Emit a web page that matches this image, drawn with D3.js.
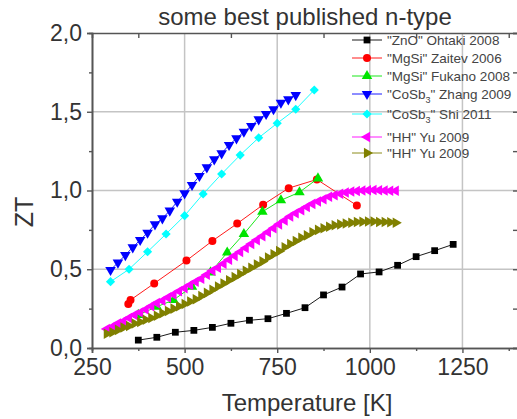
<!DOCTYPE html>
<meta charset="utf-8">
<script src="https://d3js.org/d3.v7.min.js"></script>
<style>
  body { margin: 0; background: #fff; }
  text { font-family: "Liberation Sans", Arial, sans-serif; }
</style>
<body>
<div id="chart"></div>
<script>
// ---- data ----
var znoT  = [375, 425, 475, 525, 575, 625, 675, 725, 775, 825, 875, 925, 975, 1025, 1075, 1125, 1175, 1225];
var znoZT = [0.05, 0.068, 0.10, 0.112, 0.131, 0.157, 0.176, 0.186, 0.22, 0.256, 0.337, 0.387, 0.47, 0.483, 0.525, 0.58, 0.618, 0.658];

var zaitevT  = [348, 354, 418, 505, 575, 642, 712, 781, 857, 965];
var zaitevZT = [0.28, 0.305, 0.41, 0.555, 0.68, 0.79, 0.91, 1.015, 1.07, 0.905];

var fukanoT  = [375, 425, 470, 520, 570, 615, 660, 710, 760, 810, 860];
var fukanoZT = [0.21, 0.262, 0.305, 0.389, 0.48, 0.606, 0.724, 0.865, 0.938, 0.989, 1.077];

var zhangT  = [300, 320, 340, 360, 380, 400, 420, 440, 460, 480, 500, 520, 540,
               560, 580, 600, 620, 640, 660, 680, 700, 720, 740, 760, 780, 800];
var zhangZT = [0.495, 0.542, 0.59, 0.639, 0.686, 0.732, 0.785, 0.823, 0.872, 0.929, 0.982, 1.035, 1.092,
               1.147, 1.198, 1.236, 1.289, 1.331, 1.373, 1.41, 1.452, 1.486, 1.516, 1.557, 1.579, 1.606];

var shiT  = [300, 350, 400, 450, 500, 550, 600, 650, 700, 750, 800, 850];
var shiZT = [0.421, 0.50, 0.611, 0.724, 0.84, 0.978, 1.105, 1.225, 1.335, 1.427, 1.516, 1.638];

var hhT = [290, 305, 320, 335, 350, 365, 380, 395, 410, 425, 440, 455, 470, 485, 500, 515, 530, 545,
           560, 575, 590, 605, 620, 635, 650, 665, 680, 695, 710, 725, 740, 755, 770, 785, 800, 815,
           830, 845, 860, 875, 890, 905, 920, 935, 950, 965, 980, 995, 1010, 1025, 1040, 1055, 1070];
var hh1ZT = [0.12, 0.135, 0.155, 0.17, 0.19, 0.21, 0.225, 0.245, 0.265, 0.285, 0.30, 0.32, 0.34, 0.36, 0.38, 0.40, 0.42, 0.44,
             0.465, 0.49, 0.51, 0.535, 0.56, 0.585, 0.61, 0.635, 0.66, 0.685, 0.71, 0.735, 0.76, 0.785, 0.81, 0.835, 0.855, 0.875,
             0.895, 0.915, 0.93, 0.945, 0.96, 0.97, 0.98, 0.988, 0.993, 0.997, 1.0, 1.002, 1.003, 1.002, 1.0, 0.999, 0.998];
var hh2ZT = [0.09, 0.10, 0.115, 0.13, 0.14, 0.155, 0.165, 0.18, 0.19, 0.205, 0.22, 0.235, 0.25, 0.265, 0.28, 0.295, 0.31, 0.33,
             0.35, 0.37, 0.39, 0.41, 0.43, 0.45, 0.47, 0.49, 0.51, 0.53, 0.55, 0.575, 0.595, 0.615, 0.64, 0.66, 0.68, 0.70,
             0.715, 0.735, 0.75, 0.76, 0.77, 0.78, 0.785, 0.79, 0.795, 0.80, 0.802, 0.803, 0.803, 0.80, 0.80, 0.798, 0.795];

var xTicks = [250, 500, 750, 1000, 1250];
var yTicks = [0, 0.5, 1.0, 1.5, 2.0];

// ---- series setup ----
var series = [
  {name: '"ZnO" Ohtaki 2008',   t: znoT,    zt: znoZT,    color: "#000000", symbol: "square"},
  {name: '"MgSi" Zaitev 2006',  t: zaitevT, zt: zaitevZT, color: "#ff0000", symbol: "circle"},
  {name: '"MgSi" Fukano 2008',  t: fukanoT, zt: fukanoZT, color: "#00e400", symbol: "up"},
  {name: ['"CoSb', '3', '" Zhang 2009'], t: zhangT, zt: zhangZT, color: "#0000ff", symbol: "down"},
  {name: ['"CoSb', '3', '" Shi 2011'],   t: shiT,   zt: shiZT,   color: "#00ffff", symbol: "diamond"},
  {name: '"HH" Yu 2009',        t: hhT,     zt: hh1ZT,    color: "#ff00ff", symbol: "left"},
  {name: '"HH" Yu 2009',        t: hhT,     zt: hh2ZT,    color: "#808000", symbol: "right"}
];
var legendRowY = [40, 58, 76, 94, 114, 137, 153];

var width = 517, height = 419;
var plotL = 92, plotR = 518, plotT = 33, plotB = 348;

var svg = d3.select("#chart").append("svg")
  .attr("width", width)
  .attr("height", height);

var x = d3.scaleLinear().domain([250, 1400]).range([plotL, plotR]);
var y = d3.scaleLinear().domain([0, 2]).range([plotB, plotT]);

// grid lines
svg.append("g").selectAll("line")
  .data(xTicks.filter(function(d) { return d > 250; }))
  .enter().append("line")
    .attr("x1", function(d) { return x(d); })
    .attr("x2", function(d) { return x(d); })
    .attr("y1", plotT).attr("y2", plotB)
    .attr("stroke", "#c4c4c4").attr("stroke-width", 1.5);
svg.append("g").selectAll("line")
  .data(yTicks.filter(function(d) { return d > 0 && d < 2; }))
  .enter().append("line")
    .attr("x1", plotL).attr("x2", plotR)
    .attr("y1", function(d) { return y(d); })
    .attr("y2", function(d) { return y(d); })
    .attr("stroke", "#c4c4c4").attr("stroke-width", 1.5);

// axes: bottom and left outward, top and right mirrored inward
var xMinor = [375, 625, 875, 1125, 1375];
var yMinor = [0.25, 0.75, 1.25, 1.75];
var axisColor = "#555";

svg.append("g").attr("transform", "translate(0," + plotB + ")")
  .call(d3.axisBottom(x).tickValues(xTicks).tickSize(5).tickPadding(6)
    .tickFormat(d3.format("d")));
svg.append("g").attr("transform", "translate(" + plotL + ",0)")
  .call(d3.axisLeft(y).tickValues(yTicks).tickSize(5).tickPadding(5)
    .tickFormat(function(d) { return d.toFixed(1).replace(".", ","); }));
svg.append("g").attr("transform", "translate(0," + plotT + ")")
  .call(d3.axisTop(x).tickValues(xMinor).tickSize(-5).tickFormat(""));
svg.append("g").attr("transform", "translate(" + plotR + ",0)")
  .call(d3.axisRight(y).tickValues(yMinor.concat(yTicks)).tickSize(-5).tickFormat(""));
svg.append("g").attr("transform", "translate(0," + plotB + ")")
  .call(d3.axisBottom(x).tickValues(xMinor).tickSize(3).tickFormat(""));
svg.append("g").attr("transform", "translate(" + plotL + ",0)")
  .call(d3.axisLeft(y).tickValues(yMinor).tickSize(3).tickFormat(""));

svg.selectAll(".domain").attr("stroke", axisColor).attr("stroke-width", 1.6);
svg.selectAll(".tick line").attr("stroke", axisColor).attr("stroke-width", 1.4);
svg.selectAll(".tick text")
  .attr("fill", "#333")
  .style("font-size", "23px")
  .style("font-family", "'Liberation Sans', Arial, sans-serif");

// title and axis labels
svg.append("text")
  .attr("x", 305).attr("y", 25)
  .attr("text-anchor", "middle")
  .attr("fill", "#333")
  .style("font-size", "24px")
  .text("some best published n-type");
svg.append("text")
  .attr("x", 307).attr("y", 411)
  .attr("text-anchor", "middle")
  .attr("fill", "#333")
  .style("font-size", "24px")
  .text("Temperature [K]");
svg.append("text")
  .attr("transform", "translate(33,212) rotate(-90)")
  .attr("text-anchor", "middle")
  .attr("fill", "#333")
  .style("font-size", "25px")
  .text("ZT");

// marker shapes
function markerPath(kind) {
  if (kind === "square") return d3.symbol().type(d3.symbolSquare).size(46)();
  if (kind === "circle") return d3.symbol().type(d3.symbolCircle).size(50)();
  if (kind === "diamond") return d3.symbol().type(d3.symbolSquare).size(42)();
  return d3.symbol().type(d3.symbolTriangle).size(48)();
}
function markerRotate(kind) {
  return {down: 180, left: -90, right: 90, diamond: 45}[kind] || 0;
}

var line = d3.line()
  .x(function(d) { return x(d[0]); })
  .y(function(d) { return y(d[1]); });

series.forEach(function(s) {
  var pts = d3.zip(s.t, s.zt);
  var g = svg.append("g");
  g.append("path")
    .datum(pts)
    .attr("d", line)
    .attr("fill", "none")
    .attr("stroke", s.color)
    .attr("stroke-width", 0.9);
  g.selectAll("path.m")
    .data(pts)
    .enter().append("path")
      .attr("class", "m")
      .attr("d", markerPath(s.symbol))
      .attr("transform", function(d) {
        return "translate(" + x(d[0]) + "," + y(d[1]) + ") rotate(" + markerRotate(s.symbol) + ")";
      })
      .attr("fill", s.color);
});

// legend
var legend = svg.append("g");
series.forEach(function(s, i) {
  var ly = legendRowY[i];
  legend.append("line")
    .attr("x1", 352).attr("x2", 382)
    .attr("y1", ly).attr("y2", ly)
    .attr("stroke", s.color).attr("stroke-width", 0.9);
  legend.append("path")
    .attr("d", markerPath(s.symbol))
    .attr("transform", "translate(367," + ly + ") rotate(" + markerRotate(s.symbol) + ")")
    .attr("fill", s.color);
  var t = legend.append("text")
    .attr("x", 387).attr("y", ly + 5)
    .attr("fill", "#444")
    .style("font-size", "13.5px");
  if (Array.isArray(s.name)) {
    t.append("tspan").text(s.name[0]);
    t.append("tspan").attr("dy", 4).style("font-size", "9px").text(s.name[1]);
    t.append("tspan").attr("dy", -4).text(s.name[2]);
  } else {
    t.text(s.name);
  }
});
</script>
</body>
</html>
